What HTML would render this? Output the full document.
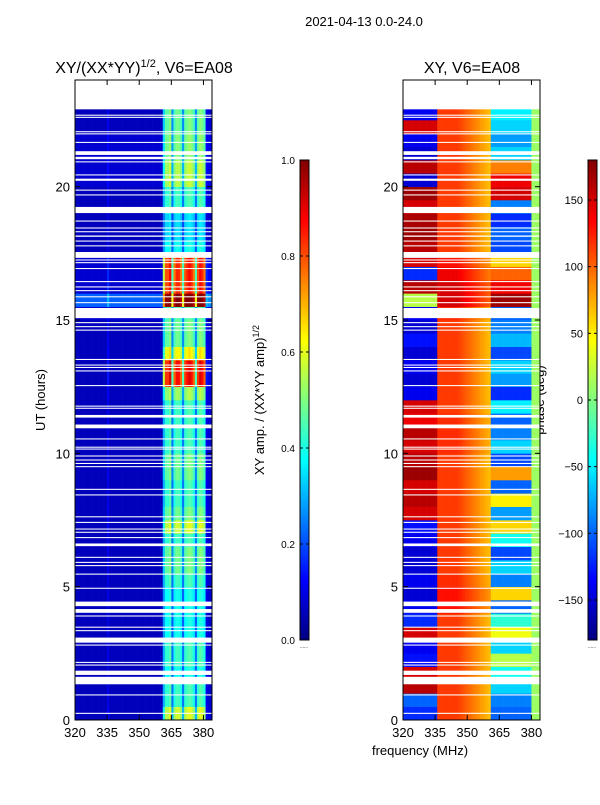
<!DOCTYPE html>
<html><head><meta charset="utf-8"><style>
body{margin:0;background:#fff;}
svg text{font-family:"Liberation Sans",sans-serif;fill:#000;}
</style></head><body>
<svg id="fig" width="600" height="800" xmlns="http://www.w3.org/2000/svg">
<text x="364" y="26" font-size="13" text-anchor="middle">2021-04-13 0.0-24.0</text>
<text x="144" y="73" font-size="16" text-anchor="middle">XY/(XX*YY)<tspan font-size="11" dy="-6">1/2</tspan><tspan dy="6">, V6=EA08</tspan></text>
<text x="472" y="73" font-size="16" text-anchor="middle">XY, V6=EA08</text>
<text transform="translate(45,400) rotate(-90)" font-size="13" text-anchor="middle">UT (hours)</text>
<text x="420" y="755" font-size="13" text-anchor="middle">frequency (MHz)</text>
<text transform="translate(264,400) rotate(-90)" font-size="13" text-anchor="middle">XY amp. / (XX*YY amp)<tspan font-size="9" dy="-5">1/2</tspan></text>
<text transform="translate(544,400) rotate(-90)" font-size="13" text-anchor="middle">phase (deg)</text>
<g id="ampPanel"></g>
<g id="phasePanel"></g>
<g id="axes"></g>
</svg>
<script>
const hours = [0,0.5,1,1.5,2,2.5,3,3.5,4,4.5,5,5.5,6,6.5,7,7.5,8,8.5,9,9.5,10,10.5,11,11.5,12,12.5,13,13.5,14,14.5,15,15.5,16,16.5,17,17.5,18,18.5,19,19.5,20,20.5,21,21.5,22,22.5,23,23.5];
const ampBand = [0.55,0.4,0.4,0.35,0.4,0.4,0.35,0.35,0.35,0.35,0.4,0.45,0.45,0.4,0.55,0.45,0.4,0.4,0.45,0.45,0.4,0.4,0.4,0.4,0.5,0.85,0.85,0.6,0.45,0.45,0.4,0.85,0.8,0.8,0.8,0.35,0.3,0.3,0.4,0.4,0.5,0.5,0.45,0.45,0.45,0.45,0.4,0.4];
const ampBg = [0.06,0.06,0.06,0.06,0.06,0.06,0.06,0.06,0.06,0.06,0.06,0.06,0.06,0.06,0.06,0.06,0.06,0.06,0.06,0.06,0.06,0.06,0.06,0.06,0.06,0.06,0.06,0.06,0.06,0.06,0.08,0.22,0.08,0.08,0.08,0.06,0.06,0.06,0.06,0.06,0.08,0.08,0.08,0.08,0.06,0.06,0.06,0.06];
const freqs = Array.from({length:64},(_,k)=>320+k);
const ampColProfile = [0,0,0,0,0,0,0,0,0,0,0,0,0,0,0,0.1,0,0,0,0,0,0,0,0,0,0,0,0,0,0,0,0,0,0,0,0,0,0,0,0,0,0.6,0.9,0.9,1.0,0.45,0.85,0.95,0.95,0.85,0.45,0.9,0.95,1.0,0.95,0.85,0.45,0.9,1.0,0.95,0.85,0.1,0.05,0.05];
const phaseLow = [-120,-100,160,150,-130,-140,150,-120,-140,-150,-140,-150,-150,-140,-130,150,160,150,170,160,150,160,140,150,-140,-150,-140,-150,-130,-150,-140,20,160,-120,150,160,170,165,150,170,-150,160,-150,-140,150,-140,0,0];
const phaseMid = [115,115,115,115,115,115,115,115,130,130,120,115,115,115,115,115,115,115,115,115,120,120,120,115,115,115,115,115,115,115,120,150,150,140,130,115,115,115,115,115,115,115,115,115,115,115,0,0];
const phaseHigh = [-100,-90,-60,-40,20,-60,40,-30,-100,60,-90,-60,-110,-40,60,-80,50,-100,80,-110,-60,-90,-100,-50,-120,-80,-60,-110,-70,-90,-100,170,140,100,60,-110,-100,-120,-90,150,140,90,-60,-80,-60,-50,0,0];
const flags = [[22.9,24],[22.66,22.7],[22.58,22.62],[22.04,22.08],[21.96,22.0],[21.64,21.68],[21.19,21.33],[21.03,21.12],[20.91,20.95],[20.22,20.3],[20.42,20.46],[19.85,19.89],[19.67,19.71],[19.01,19.24],[18.69,18.73],[18.43,18.47],[18.29,18.33],[18.12,18.17],[17.94,17.98],[17.76,17.8],[17.33,17.55],[17.23,17.27],[17.13,17.17],[16.91,16.95],[16.42,16.46],[16.22,16.26],[16.08,16.12],[15.85,15.89],[15.63,15.67],[15.07,15.45],[14.88,14.92],[14.73,14.77],[14.6,14.64],[13.5,13.54],[13.29,13.33],[13.2,13.24],[13.07,13.11],[12.52,12.56],[11.75,11.79],[11.67,11.71],[11.34,11.44],[10.94,11.08],[10.52,10.56],[10.21,10.25],[10.14,10.18],[9.88,9.92],[9.73,9.77],[9.6,9.64],[9.48,9.52],[8.63,8.67],[8.42,8.46],[7.6,7.64],[7.39,7.43],[7.14,7.18],[7.02,7.06],[6.82,6.86],[6.52,6.62],[6.08,6.12],[5.89,5.93],[5.77,5.81],[5.45,5.49],[4.92,4.96],[4.27,4.44],[4.02,4.16],[3.88,3.92],[3.46,3.5],[3.33,3.37],[2.9,3.09],[2.79,2.83],[2.14,2.18],[2.04,2.08],[1.69,1.85],[1.34,1.62],[0.92,0.96],[0.23,0.27]];
const ampTicks = [0,0.2,0.4,0.6,0.8,1.0];
const ampTickLabels = ["0.0","0.2","0.4","0.6","0.8","1.0"];
const phaseTicks = [-150,-100,-50,0,50,100,150];
const xTicks = [320,335,350,365,380];
const yTicks = [0,5,10,15,20];

const NS="http://www.w3.org/2000/svg";
function el(tag,attrs,parent){const e=document.createElementNS(NS,tag);for(const k in attrs)e.setAttribute(k,attrs[k]);parent.appendChild(e);return e;}
function jet(v){v=Math.max(0,Math.min(1,v));
 const r=Math.max(0,Math.min(1,Math.min(4*v-1.5,-4*v+4.5)));
 const g=Math.max(0,Math.min(1,Math.min(4*v-0.5,-4*v+3.5)));
 const b=Math.max(0,Math.min(1,Math.min(4*v+0.5,-4*v+2.5)));
 return `rgb(${Math.round(r*255)},${Math.round(g*255)},${Math.round(b*255)})`;}
const panels=[{x0:75,name:'amp'},{x0:403,name:'phase'}];
const W=137,Y0=80,H=640;
function xs(x0,f){return x0+(f-320)/64*W;}
function ys(h){return Y0+H-h/24*H;}
function phaseAt(i,f){
 if(f>=380) return 10;
 if(f>=361) return phaseHigh[i];
 if(f<336) return phaseLow[i];
 return phaseMid[i]-Math.max(0,f-345)/16*50;
}
const ampG=document.getElementById('ampPanel'), phG=document.getElementById('phasePanel');
for(let i=0;i<hours.length;i++){
 const y1=ys(hours[i]+0.5), y2=ys(hours[i]);
 for(let j=0;j<freqs.length;j++){
  const f=freqs[j], xa=xs(75,f), xp=xs(403,f), w=W/64+0.3;
  const a=ampBg[i]+ampColProfile[j]*ampBand[i];
  const r1=el('rect',{x:xa,y:y1,width:w,height:y2-y1+0.3,fill:jet(a)},ampG);
  
  
  const p=phaseAt(i,f);
  const r2=el('rect',{x:xp,y:y1,width:w,height:y2-y1+0.3,fill:jet((p+180)/360)},phG);
  
  
 }
}
const ax=document.getElementById('axes');
panels.forEach(P=>{
 flags.forEach(fl=>{
  const r=el('rect',{x:P.x0,y:ys(fl[1]),width:W,height:ys(fl[0])-ys(fl[1]),fill:'#fff'},ax);
  
  
 });
 const fr=el('rect',{x:P.x0,y:Y0,width:W,height:H,fill:'none',stroke:'#000','stroke-width':1},ax);
 
 
 xTicks.forEach(t=>{const x=xs(P.x0,t);
  el('line',{x1:x,x2:x,y1:Y0+H,y2:Y0+H-5,stroke:'#000'},ax);
  el('line',{x1:x,x2:x,y1:Y0,y2:Y0+5,stroke:'#000'},ax);
  const tx=el('text',{x:x,y:Y0+H+17,'font-size':13,'text-anchor':'middle'},ax);tx.textContent=t;
  
  });
 yTicks.forEach(t=>{const y=ys(t);
  el('line',{x1:P.x0,x2:P.x0+5,y1:y,y2:y,stroke:'#000'},ax);
  el('line',{x1:P.x0+W,x2:P.x0+W-5,y1:y,y2:y,stroke:'#000'},ax);
  const tx=el('text',{x:P.x0-5,y:y+5,'font-size':13,'text-anchor':'end'},ax);tx.textContent=t;
  
  });
});
const defs=el('defs',{},document.getElementById('fig'));
const gr=el('linearGradient',{id:'jetg',x1:0,y1:1,x2:0,y2:0},defs);
for(let k=0;k<=16;k++){el('stop',{offset:k/16,'stop-color':jet(k/16)},gr);}
function cbar(x,name){const r=el('rect',{x:x,y:160,width:9,height:480,fill:'url(#jetg)',stroke:'#000','stroke-width':1},ax);
 
 
 const d=el('text',{x:x+4,y:648,'font-size':5,'text-anchor':'middle',fill:'#888'},ax);d.textContent='......';}
cbar(300,'amp-colorbar');cbar(588,'phase-colorbar');
ampTicks.forEach((t,k)=>{const y=640-t*480;
 el('line',{x1:300,x2:303,y1:y,y2:y,stroke:'#000'},ax);el('line',{x1:309,x2:306,y1:y,y2:y,stroke:'#000'},ax);
 const tx=el('text',{x:295,y:y+4,'font-size':10,'text-anchor':'end'},ax);tx.textContent=ampTickLabels[k];
 
 });
phaseTicks.forEach(t=>{const y=640-(t+180)/360*480;
 el('line',{x1:588,x2:591,y1:y,y2:y,stroke:'#000'},ax);el('line',{x1:597,x2:594,y1:y,y2:y,stroke:'#000'},ax);
 const tx=el('text',{x:583,y:y+4,'font-size':11,'text-anchor':'end'},ax);tx.textContent=t<0?'\u2212'+(-t):t;
 
 });
</script>
</body></html>
